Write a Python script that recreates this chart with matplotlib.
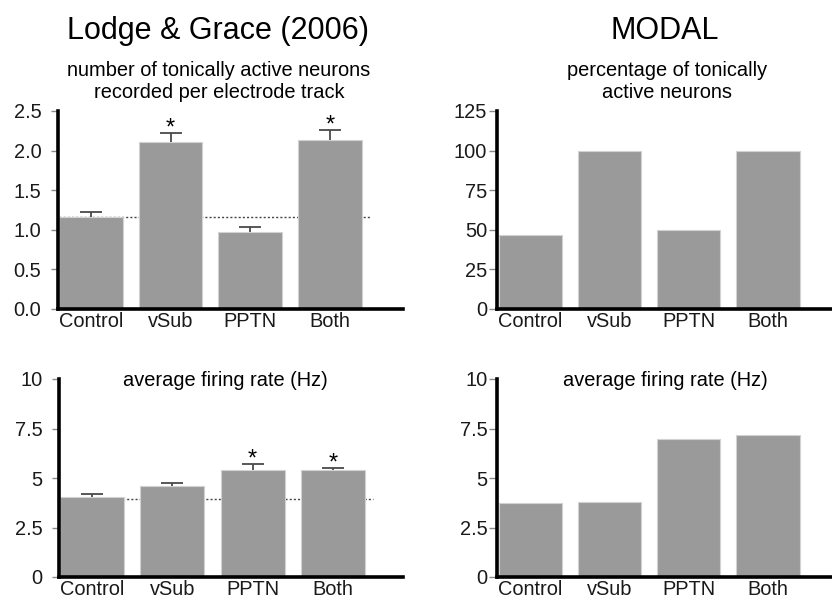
import matplotlib
matplotlib.use("Agg")
import matplotlib.pyplot as plt

plt.rcParams['font.family'] = ['Liberation Sans', 'DejaVu Sans']

# data
categories = ['Control', 'vSub', 'PPTN', 'Both']

lg_tonic = [1.16, 2.11, 0.97, 2.14]
lg_tonic_err = [0.07, 0.11, 0.06, 0.12]
lg_tonic_sig = [False, True, False, True]
lg_tonic_base = 1.16

lg_rate = [4.05, 4.58, 5.42, 5.38]
lg_rate_err = [0.12, 0.19, 0.28, 0.14]
lg_rate_sig = [False, False, True, True]
lg_rate_base = 3.95

modal_pct = [47, 100, 50, 100]
modal_rate = [3.72, 3.78, 6.98, 7.18]

bar_color = '#9a9a9a'
edge_color = '#d2d2d2'
W, H = 832, 598
fs = 14.4

fig = plt.figure(figsize=(W / 100, H / 100), dpi=100)


def panel(rect, xlim, ylim, yticks, yticklabels, tick_len, tick_pad):
    ax = fig.add_axes([rect[0] / W, 1 - rect[1] / H, rect[2] / W, rect[3] / H])
    ax.set_xlim(*xlim)
    ax.set_ylim(*ylim)
    for s in ['top', 'right']:
        ax.spines[s].set_visible(False)
    for s in ['left', 'bottom']:
        ax.spines[s].set_linewidth(2.6)
        ax.spines[s].set_color('black')
        ax.spines[s].set_capstyle('projecting')
    ax.set_xticks(range(len(categories)))
    ax.set_xticklabels(categories)
    ax.set_yticks(yticks)
    ax.set_yticklabels(yticklabels)
    ax.tick_params(axis='x', length=0, pad=2, labelsize=fs, labelcolor='#1a1a1a')
    ax.tick_params(axis='y', length=tick_len, width=1, color='#8a8a8a', pad=tick_pad,
                   labelsize=fs, labelcolor='#1a1a1a')
    ax.patch.set_alpha(0)
    return ax


def bars(ax, vals, err=None, sig=None, base=None):
    x = list(range(len(vals)))
    ax.bar(x, vals, width=0.8, color=bar_color, edgecolor=edge_color, linewidth=0.8, zorder=2)
    if err is not None:
        eb = ax.errorbar(x, vals, yerr=[[0] * len(vals), err], fmt='none', ecolor='#4a4a4a',
                         elinewidth=1.3, capsize=8, capthick=1.3, zorder=3)
        # only the upper cap is drawn in the original
        eb[1][0].set_visible(False)
        for xi, v, e, s in zip(x, vals, err, sig):
            if s:
                ax.annotate('*', (xi, v + e), xytext=(0, -1), textcoords='offset points',
                            ha='center', va='baseline', fontsize=17, color='black')
    if base is not None:
        ax.plot([-0.4, 3.5], [base, base], color='#444444', lw=1,
                linestyle=(0, (1.5, 1.5)), zorder=1)


ax1 = panel((58, 309, 345, 198), (-0.415, 3.92), (0, 2.5),
            [0, 0.5, 1.0, 1.5, 2.0, 2.5], ['0.0', '0.5', '1.0', '1.5', '2.0', '2.5'], 5, 7)
bars(ax1, lg_tonic, lg_tonic_err, lg_tonic_sig, lg_tonic_base)

ax2 = panel((497, 309, 335, 198), (-0.42, 3.81), (0, 125),
            [0, 25, 50, 75, 100, 125], ['0', '25', '50', '75', '100', '125'], 6, 1)
bars(ax2, modal_pct)

ax3 = panel((59, 577, 344, 198), (-0.41, 3.87), (0, 10),
            [0, 2.5, 5, 7.5, 10], ['0', '2.5', '5', '7.5', '10'], 5, 7)
bars(ax3, lg_rate, lg_rate_err, lg_rate_sig, lg_rate_base)

ax4 = panel((497, 577, 335, 198), (-0.42, 3.81), (0, 10),
            [0, 2.5, 5, 7.5, 10], ['0', '2.5', '5', '7.5', '10'], 6, 1)
bars(ax4, modal_rate)

# titles
fig.text(218 / W, 1 - 31 / H, 'Lodge & Grace (2006)', ha='center', va='center', fontsize=22)
fig.text(665 / W, 1 - 31 / H, 'MODAL', ha='center', va='center', fontsize=22)
fig.text(219 / W, 1 - 82 / H, 'number of tonically active neurons\nrecorded per electrode track',
         ha='center', va='center', fontsize=fs, linespacing=1.2)
fig.text(667 / W, 1 - 82 / H, 'percentage of tonically\nactive neurons',
         ha='center', va='center', fontsize=fs, linespacing=1.2)
fig.text(225 / W, 1 - 380 / H, 'average firing rate (Hz)', ha='center', va='center', fontsize=fs)
fig.text(665 / W, 1 - 380 / H, 'average firing rate (Hz)', ha='center', va='center', fontsize=fs)

fig.savefig('out.png', dpi=100)
